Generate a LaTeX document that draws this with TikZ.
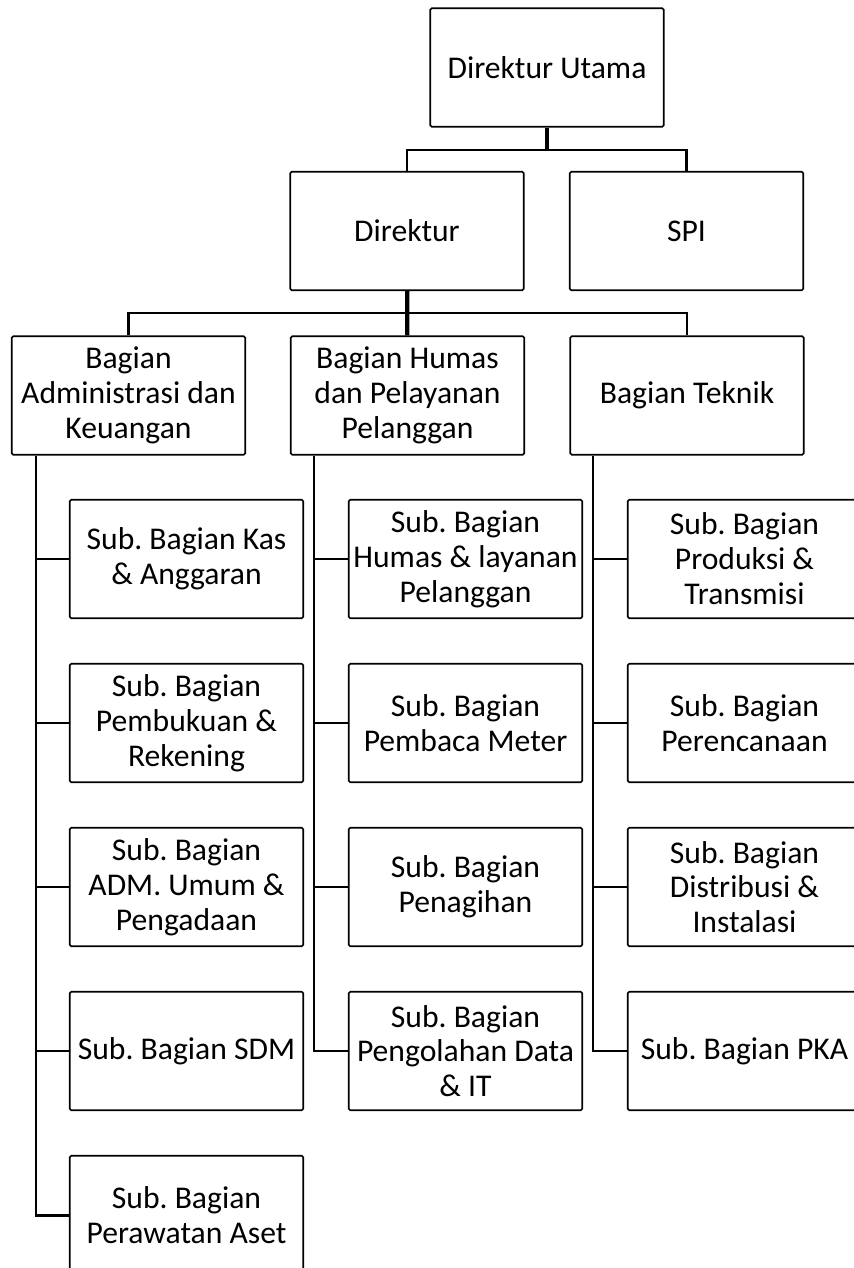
\documentclass[tikz,border=0pt]{standalone}
\usepackage{fontspec}
\setmainfont{Carlito}
\frenchspacing

\begin{document}
\begin{tikzpicture}[x=0.02cm,y=-0.02cm]

        \useasboundingbox (0,0) rectangle (853,1268);

        \begin{scope}[every node/.style={draw, rectangle, rounded corners=0.8pt, line width=0.9pt,
            align=center, minimum width=4.67cm, minimum height=2.37cm, inner sep=1pt,
            font=\fontsize{18}{19.85}\selectfont}]
          \node (1)  at (547,67.5)   {Direktur Utama};
          \node (2)  at (407,231)    {Direktur};
          \node (3)  at (686.5,231)  {SPI};
          \node (4)  at (128.5,395.5) {Bagian\\Administrasi dan\\Keuangan};
          \node (5)  at (407.5,395.5) {Bagian Humas\\dan Pelayanan\\Pelanggan};
          \node (6)  at (687,395.5)   {Bagian Teknik};
          \node (11) at (186.5,559)  {Sub. Bagian Kas\\\& Anggaran};
          \node (12) at (186.5,723)  {Sub. Bagian\\Pembukuan \&\\Rekening};
          \node (13) at (186.5,887)  {Sub. Bagian\\ADM. Umum \&\\Pengadaan};
          \node (14) at (186.5,1051) {Sub. Bagian SDM};
          \node (15) at (186.5,1215) {Sub. Bagian\\Perawatan Aset};
          \node (21) at (465.5,559)  {Sub. Bagian\\Humas \& layanan\\Pelanggan};
          \node (22) at (465.5,723)  {Sub. Bagian\\Pembaca Meter};
          \node (23) at (465.5,887)  {Sub. Bagian\\Penagihan};
          \node (24) at (465.5,1051) {Sub. Bagian\\Pengolahan Data\\\& IT};
          \node (31) at (744.5,559)  {Sub. Bagian\\Produksi \&\\Transmisi};
          \node (32) at (744.5,723)  {Sub. Bagian\\Perencanaan};
          \node (33) at (744.5,887)  {Sub. Bagian\\Distribusi \&\\Instalasi};
          \node (34) at (744.5,1051) {Sub. Bagian PKA};
        \end{scope}

        \coordinate (a)  at (547,150);
        \coordinate (b)  at (407,313);
        \coordinate (c1) at (36,0);
        \coordinate (c2) at (314,0);
        \coordinate (c3) at (593,0);

        \begin{scope}[line width=1.3pt]
          \draw[line width=1.9pt] (1) -- (a);
          \draw (2.north) |- (a) -| (3.north);
          \draw[line width=2.4pt] (2) -- (5);
          \draw (4.north) |- (b) -| (6.north);

          \draw[line width=1.7pt] (4.south -| c1) |- (15.west);
          \draw[line width=1.4pt] (5.south -| c2) |- (24.west);
          \draw[line width=1.4pt] (6.south -| c3) |- (34.west);

          \foreach \n in {11,...,14}
            \draw (\n.west) -- (\n.west -| c1);
          \foreach \n in {21,22,23}
            \draw (\n.west) -- (\n.west -| c2);
          \foreach \n in {31,32,33}
            \draw (\n.west) -- (\n.west -| c3);
        \end{scope}

      \end{tikzpicture}
\end{document}
